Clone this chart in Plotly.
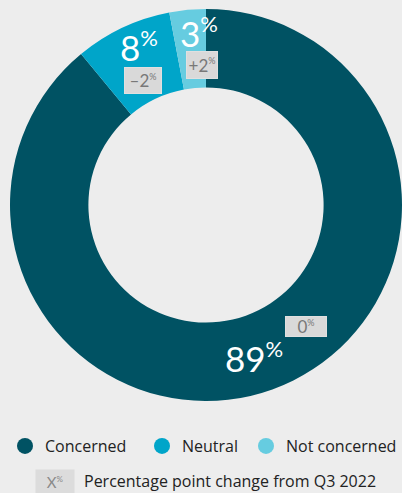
import math
import plotly.graph_objects as go

categories = ["Concerned", "Neutral", "Not concerned"]
values = [89, 8, 3]
changes = ["0", "\u20132", "+2"]
colors = ["#005263", "#00a5c9", "#66cce0"]

W, H = 402, 493
BG = "#ededed"
FONT = "Open Sans"

# pie domain in pixels
px0, px1, py0, py1 = 10, 402, 8, 402
hole = 0.6

fig = go.Figure()
fig.add_trace(go.Pie(
    labels=categories, values=values, sort=False, direction="clockwise",
    rotation=0, hole=hole, marker=dict(colors=colors, line=dict(width=0)),
    textinfo="none", hoverinfo="label+percent", showlegend=False,
    domain=dict(x=[px0 / W, px1 / W], y=[1 - py1 / H, 1 - py0 / H]),
))

# legend entries as circles, each in its own legend box
legend_names = ["legend", "legend2", "legend3"]
legend_pos = [(5, "left"), (142, "left"), (404, "right")]
for c, col, lg in zip(categories, colors, legend_names):
    fig.add_trace(go.Scatter(x=[None], y=[None], mode="markers", name=c,
                             legend=lg,
                             marker=dict(color=col, size=19, symbol="circle")))

# label positions computed from slice mid-angles
cx = (px0 + px1) / 2
cy = (py0 + py1) / 2
R = min(px1 - px0, py1 - py0) / 2
rmid = R * (1 + hole) / 2
total = sum(values)
label_off = [(-5, -4), (0, 17), (8, 17)]
box_off = [(47, 26), (4, -17), (11, -16)]
box_size = [(40, 19), (36, 25), (30, 26)]
cum = 0
for v, ch, lo, bo, bs in zip(values, changes, label_off, box_off, box_size):
    mid = (cum + v / 2) / total * 2 * math.pi
    cum += v
    x = cx + rmid * math.sin(mid)
    y = cy - rmid * math.cos(mid)
    fig.add_annotation(
        x=x / W, y=1 - y / H, xref="paper", yref="paper", showarrow=False,
        xanchor="center", yanchor="middle",
        text=f"{v}<sup><span style='font-size:22px'>%</span></sup>",
        font=dict(family="Lato", size=35, color="white"),
        xshift=lo[0], yshift=lo[1])
    fig.add_annotation(
        x=x / W, y=1 - y / H, xref="paper", yref="paper", showarrow=False,
        xanchor="center", yanchor="middle",
        text=f"{ch}<sup><span style='font-size:9px'>%</span></sup>",
        font=dict(family="Lato", size=17, color="#787878"),
        bgcolor="#d9d9d9", borderpad=0, bordercolor="#e0e0e0", borderwidth=1,
        width=bs[0], height=bs[1],
        xshift=bo[0], yshift=bo[1])

# key for change boxes
fig.add_annotation(
    x=55 / W, y=1 - 482 / H, xref="paper", yref="paper", showarrow=False,
    xanchor="center", yanchor="middle",
    text="X<sup><span style='font-size:8px'>%</span></sup>",
    font=dict(family="Lato", size=15, color="#8a8a8a"),
    bgcolor="#dcdcdc", borderpad=0, width=38, height=24)
fig.add_annotation(
    x=82 / W, y=1 - 481 / H, xref="paper", yref="paper", showarrow=False,
    xanchor="left", yanchor="middle", text="Percentage point change from Q3 2022",
    font=dict(family=FONT, size=16, color="#222222"))

legend_style = dict(orientation="h", y=1 - 429 / H,
                    yanchor="top", font=dict(family=FONT, size=16, color="#222222"),
                    bgcolor="rgba(0,0,0,0)", itemwidth=30)
fig.update_layout(
    width=W, height=H, margin=dict(l=0, r=0, t=0, b=0),
    paper_bgcolor=BG, plot_bgcolor=BG,
    xaxis=dict(visible=False), yaxis=dict(visible=False),
    showlegend=True,
    legend=dict(x=legend_pos[0][0] / W, xanchor=legend_pos[0][1], **legend_style),
    legend2=dict(x=legend_pos[1][0] / W, xanchor=legend_pos[1][1], **legend_style),
    legend3=dict(x=min(legend_pos[2][0] / W, 1), xanchor=legend_pos[2][1], **legend_style),
)

fig.write_html("out.html")
